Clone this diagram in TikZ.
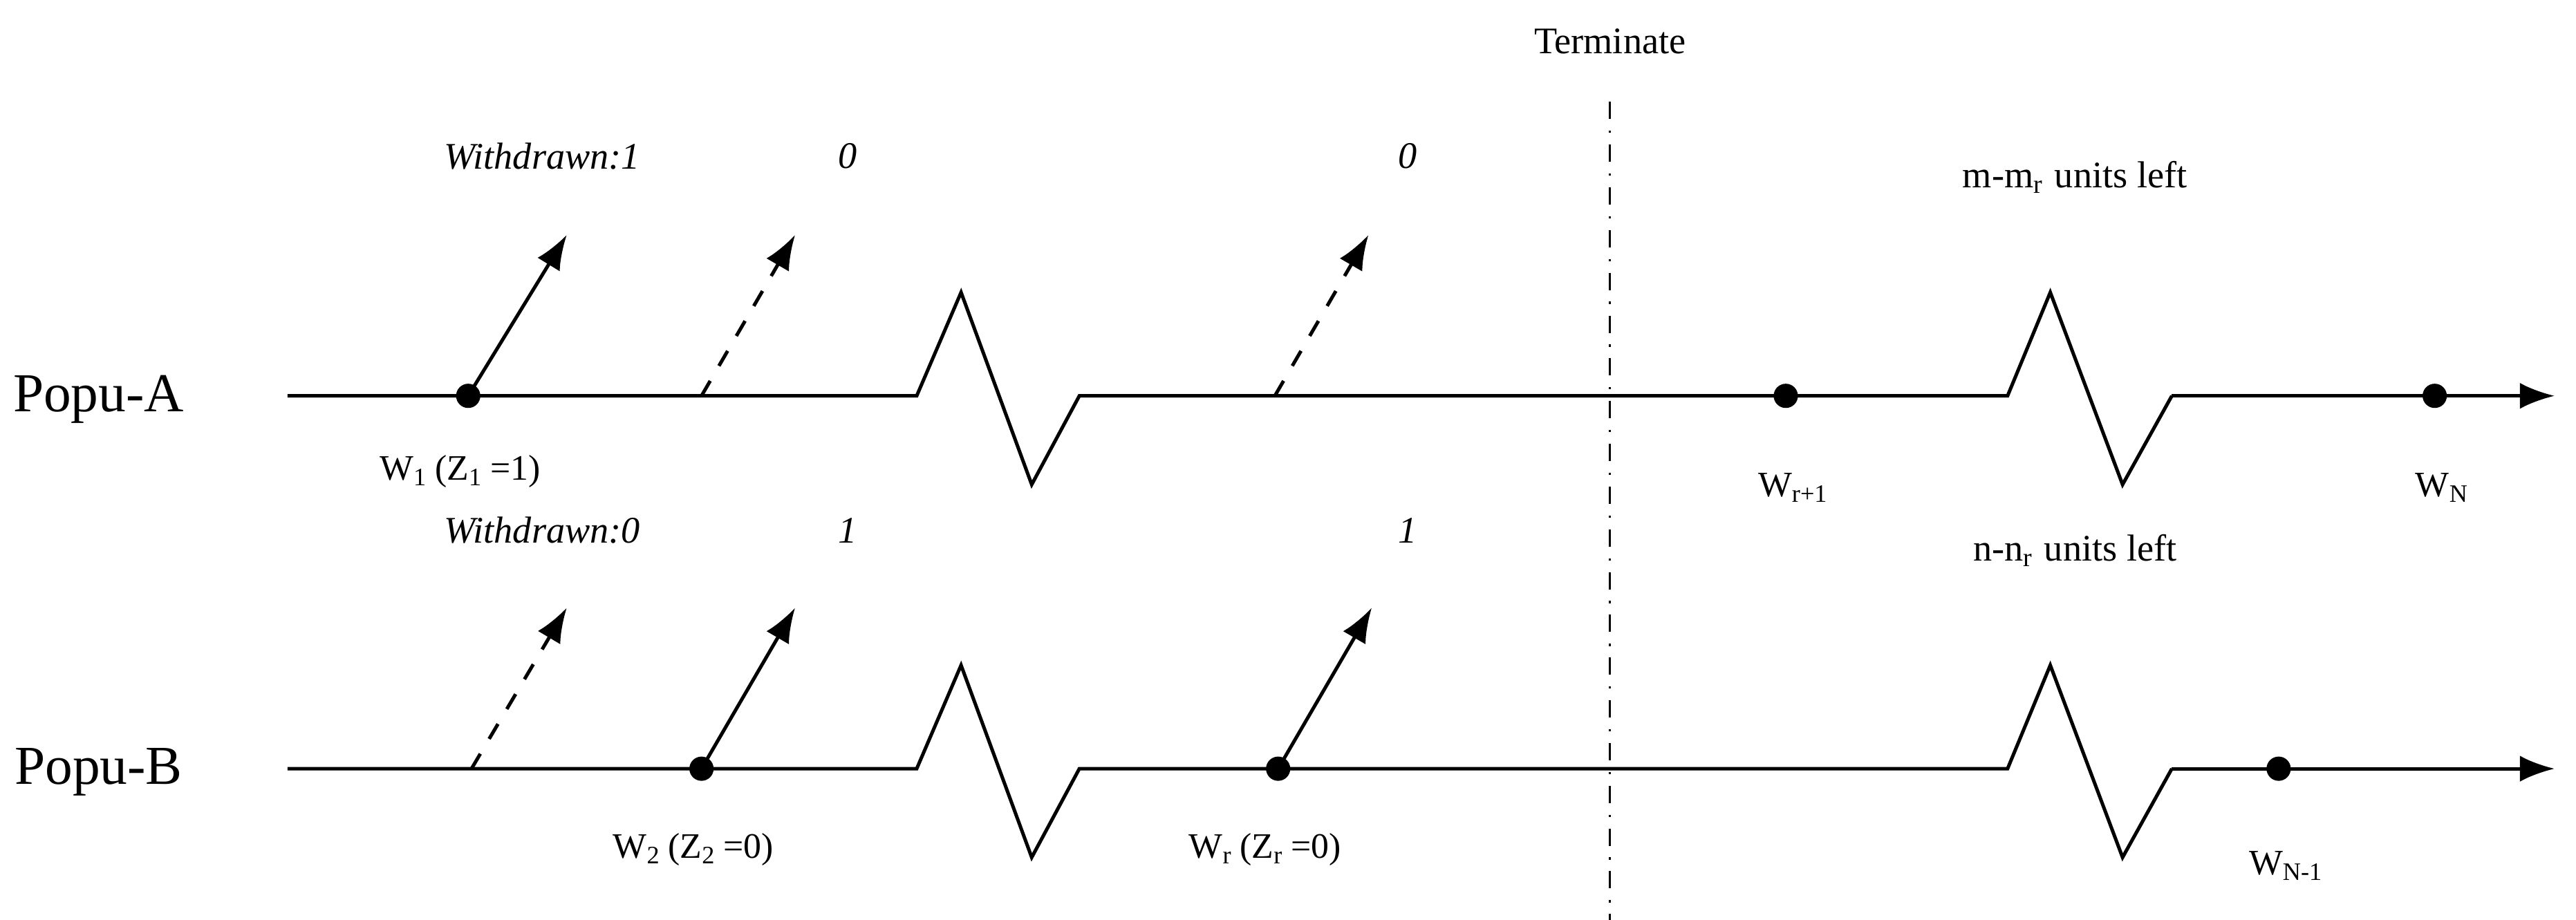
\documentclass[tikz,border=0pt]{standalone}
\usepackage{fontspec}
\setmainfont{Liberation Serif}
\usetikzlibrary{arrows.meta}
\begin{document}
\begin{tikzpicture}[x=0.01cm,y=-0.01cm,
    axis/.style={semithick,-{Latex[length=6pt,width=4.5pt]}},
    zig/.style={semithick},
    dot/.style={circle,fill=black,inner sep=0pt,minimum size=4.2pt},
    wd/.style={semithick,-{Latex[length=6pt,width=4.5pt]}},
    wdd/.style={wd,dashed},
    lab/.style={font=\fontsize{6.5}{8}\selectfont},
    big/.style={font=\fontsize{9.5}{11}\selectfont},
    wlab/.style={font=\fontsize{6.2}{8}\selectfont}]
    \useasboundingbox (0,0) rectangle (1568,560);

    % Population A
    \node[big] (popA) at (60,243) {Popu-A};
    \coordinate (a0) at (175,241);
    \coordinate (aend) at (1555,241);
    \draw[zig] (a0) -- (558,241) -- (585,178) -- (628,295) -- (657,241) -- (1222,241)
        -- (1248,178) -- (1292,295) -- (1322,241);
    \draw[axis] (1322,241) -- (aend);
    \node[dot] (w1) at (285,241) {};
    \node[dot] (wr1) at (1087,241) {};
    \node[dot] (wN) at (1482,241) {};
    \coordinate (a2) at (427,241);
    \coordinate (ar) at (776,241);
    \draw[wd] (w1.center) -- (345,143);
    \draw[wdd] (a2) -- (484,143);
    \draw[wdd] (ar) -- (833,143);
    \node[lab] at (330,95) {\textit{Withdrawn:1}};
    \node[lab] at (516,95) {\textit{0}};
    \node[lab] at (857,95) {\textit{0}};
    \node[lab] at (1263,108) {m-m\textsubscript{r} units left};
    \node[wlab] at (280,287) {W\textsubscript{1}\,(Z\textsubscript{1}\,=1)};
    \node[wlab] at (1092,297) {W\textsubscript{r+1}};
    \node[wlab] at (1487,297) {W\textsubscript{N}};

    % Population B
    \node[big] (popB) at (60,470) {Popu-B};
    \coordinate (b0) at (175,468);
    \coordinate (bend) at (1555,468);
    \draw[zig] (b0) -- (558,468) -- (585,405) -- (628,522) -- (657,468) -- (1222,468)
        -- (1248,405) -- (1292,522) -- (1322,468);
    \draw[axis] (1322,468) -- (bend);
    \node[dot] (w2) at (427,468) {};
    \node[dot] (wr) at (778,468) {};
    \node[dot] (wN1) at (1387,468) {};
    \coordinate (b1) at (287,468);
    \draw[wdd] (b1) -- (345,370);
    \draw[wd] (w2.center) -- (484,370);
    \draw[wd] (wr.center) -- (835,370);
    \node[lab] at (330,323) {\textit{Withdrawn:0}};
    \node[lab] at (516,323) {\textit{1}};
    \node[lab] at (857,323) {\textit{1}};
    \node[lab] at (1263,335) {n-n\textsubscript{r} units left};
    \node[wlab] at (422,517) {W\textsubscript{2}\,(Z\textsubscript{2}\,=0)};
    \node[wlab] at (770,517) {W\textsubscript{r}\,(Z\textsubscript{r}\,=0)};
    \node[wlab] at (1392,527) {W\textsubscript{N-1}};

    % Termination
    \node[lab] (term) at (980,25) {Terminate};
    \coordinate (tb) at (980,560);
    \draw[dash dot] (980,62) -- (tb);
\end{tikzpicture}
\end{document}
